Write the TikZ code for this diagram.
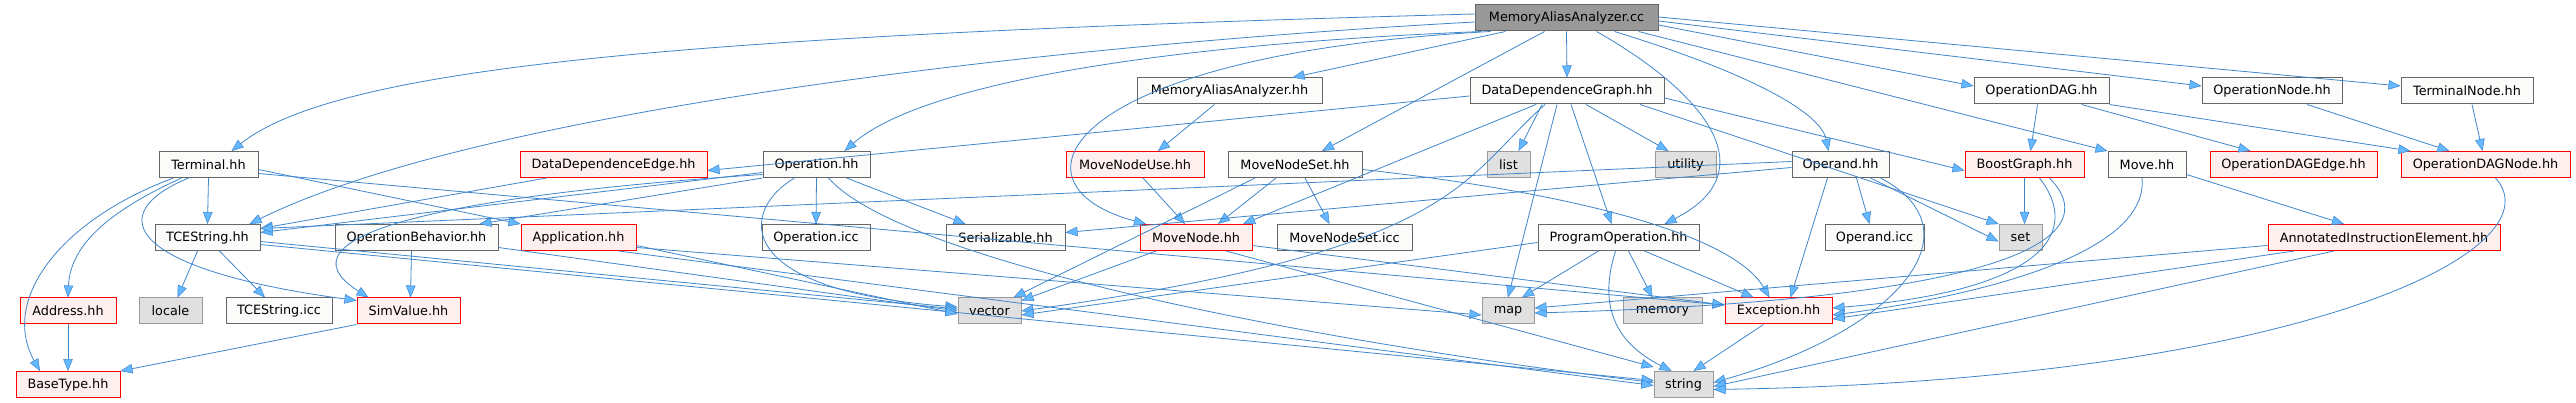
\documentclass[tikz,border=0pt]{standalone}
\usepackage{fontspec}
\setmainfont{DejaVu Sans}
\usetikzlibrary{arrows.meta}
\definecolor{edgec}{HTML}{3F86CC}
\definecolor{arrowc}{HTML}{63B8FF}
\definecolor{wborder}{HTML}{666666}
\definecolor{wfill}{HTML}{FBFCFA}
\definecolor{gborder}{HTML}{999999}
\definecolor{gfill}{HTML}{E0E0E0}
\definecolor{rborder}{HTML}{FF0000}
\definecolor{rfill}{HTML}{FFF0F0}
\definecolor{mfill}{HTML}{999999}
\tikzset{
  box/.style={draw, line width=1.0, minimum height=26, inner sep=0,
    font=\fontsize{12.8}{15}\selectfont},
  wn/.style={box, draw=wborder, fill=wfill},
  gn/.style={box, draw=gborder, fill=gfill},
  rn/.style={box, draw=rborder, fill=rfill},
  mn/.style={box, draw=wborder, fill=mfill},
  ln/.style={draw=edgec, line width=0.8,
    -{Triangle[length=12pt,width=9.5pt,color=edgec,fill=arrowc,line width=0.5pt]}},
}
\begin{document}
\begin{tikzpicture}[x=1pt,y=-1pt]
\useasboundingbox[fill=white] (0,0) rectangle (2576,403);
% row 0
\node[mn, minimum width=183] (main) at (1566.5,18) {MemoryAliasAnalyzer.cc};
% row 1
\node[wn, minimum width=185] (maah) at (1229.5,91) {MemoryAliasAnalyzer.hh};
\node[wn, minimum width=194] (ddg) at (1567,91) {DataDependenceGraph.hh};
\node[wn, minimum width=135] (opdag) at (2041.5,91) {OperationDAG.hh};
\node[wn, minimum width=140] (opnode) at (2272,91) {OperationNode.hh};
\node[wn, minimum width=132] (termnode) at (2467,91) {TerminalNode.hh};
% row 2
\node[wn, minimum width=99] (terminal) at (208.5,164.5) {Terminal.hh};
\node[rn, minimum width=187] (dde) at (613.5,164.5) {DataDependenceEdge.hh};
\node[wn, minimum width=107] (operation) at (816.5,164.5) {Operation.hh};
\node[rn, minimum width=138] (mnuse) at (1135,164.5) {MoveNodeUse.hh};
\node[wn, minimum width=134] (mnset) at (1295,164.5) {MoveNodeSet.hh};
\node[gn, minimum width=43] (list) at (1508.5,164.5) {list};
\node[gn, minimum width=61] (utility) at (1685.5,164.5) {utility};
\node[wn, minimum width=97] (operand) at (1840.5,164.5) {Operand.hh};
\node[rn, minimum width=119] (boost) at (2024.5,164.5) {BoostGraph.hh};
\node[wn, minimum width=78] (move) at (2147,164.5) {Move.hh};
\node[rn, minimum width=167] (opdagedge) at (2293.5,164.5) {OperationDAGEdge.hh};
\node[rn, minimum width=169] (opdagnode) at (2485.5,164.5) {OperationDAGNode.hh};
% row 3
\node[wn, minimum width=105] (tcestring) at (207.5,237.5) {TCEString.hh};
\node[wn, minimum width=163] (opbeh) at (416.5,237.5) {OperationBehavior.hh};
\node[rn, minimum width=115] (application) at (578.5,237.5) {Application.hh};
\node[wn, minimum width=108] (opicc) at (816,237.5) {Operation.icc};
\node[wn, minimum width=119] (serial) at (1005.5,237.5) {Serializable.hh};
\node[rn, minimum width=112] (movenode) at (1196,237.5) {MoveNode.hh};
\node[wn, minimum width=135] (mnseticc) at (1344.5,237.5) {MoveNodeSet.icc};
\node[wn, minimum width=161] (progop) at (1618.5,237.5) {ProgramOperation.hh};
\node[wn, minimum width=99] (operandicc) at (1874.5,237.5) {Operand.icc};
\node[gn, minimum width=43] (set) at (2020.5,237.5) {set};
\node[rn, minimum width=232] (aie) at (2384,237.5) {AnnotatedInstructionElement.hh};
% row 4
\node[rn, minimum width=96] (address) at (68,311) {Address.hh};
\node[gn, minimum width=63] (locale) at (170.5,311) {locale};
\node[wn, minimum width=106] (tceicc) at (279,311) {TCEString.icc};
\node[rn, minimum width=103] (simvalue) at (408.5,311) {SimValue.hh};
\node[gn, minimum width=63] (vector) at (989.5,311) {vector};
\node[gn, minimum width=52] (map) at (1508,311) {map};
\node[gn, minimum width=79] (memory) at (1662.5,311) {memory};
\node[rn, minimum width=107] (exception) at (1778.5,311) {Exception.hh};
% row 5
\node[rn, minimum width=104] (basetype) at (68,384.5) {BaseType.hh};
\node[gn, minimum width=59] (string) at (1683.5,384.5) {string};

% ---- edges from MemoryAliasAnalyzer.cc
\draw[ln] ([yshift=4]main.west) .. controls (700,35) and (340,65) .. ([xshift=23]terminal.north);
\draw[ln] ([yshift=-4]main.west) .. controls (1050,45) and (480,110) .. ([xshift=42]tcestring.north);
\draw[ln] ([xshift=-85]main.south) .. controls (1150,45) and (920,85) .. ([xshift=28]operation.north);
\draw[ln] ([xshift=-61]main.south) -- ([xshift=63]maah.north);
\draw[ln] ([xshift=-76]main.south) .. controls (1060,55) and (1000,185) .. ([xshift=-50]movenode.north);
\draw[ln] ([xshift=-22]main.south) -- ([xshift=27]mnset.north);
\draw[ln] (main.south) -- (ddg.north);
\draw[ln] ([xshift=30]main.south) .. controls (1700,90) and (1770,170) .. ([xshift=46]progop.north);
\draw[ln] ([xshift=48]main.south) .. controls (1740,70) and (1820,110) .. ([xshift=-12]operand.north);
\draw[ln] ([xshift=72]main.south) -- (move.north west);
\draw[ln] ([yshift=-7]main.east) -- ([yshift=5]opdag.west);
\draw[ln] ([yshift=-3]main.east) -- ([yshift=5]opnode.west);
\draw[ln] ([yshift=1]main.east) -- ([yshift=5]termnode.west);
% ---- MemoryAliasAnalyzer.hh
\draw[ln] ([xshift=-15]maah.south) -- ([xshift=23]mnuse.north);
% ---- DataDependenceGraph.hh
\draw[ln] ([yshift=-5]ddg.west) -- ([yshift=-6]dde.east);
\draw[ln] ([xshift=-25]ddg.south) -- ([xshift=10]list.north);
\draw[ln] ([xshift=19]ddg.south) -- ([xshift=-17]utility.north);
\draw[ln] ([xshift=-10]ddg.south) -- (map.north);
\draw[ln] ([xshift=4]ddg.south) -- ([xshift=-7]progop.north);
\draw[ln] ([xshift=-31]ddg.south) -- ([xshift=47]movenode.north);
\draw[ln] ([xshift=-22]ddg.south) .. controls (1460,180) and (1460,250) .. (vector.east);
\draw[ln] ([xshift=73]ddg.south) -- (set.north west);
\draw[ln] ([yshift=-7]ddg.east) -- ([yshift=-6]boost.west);
% ---- DataDependenceEdge.hh
\draw[ln] ([xshift=-67]dde.south) -- ([yshift=9]tcestring.east);
% ---- Operation.hh
\draw[ln] ([yshift=-8]operation.west) -- ([yshift=5]tcestring.east);
\draw[ln] (operation.south west) -- ([xshift=63]opbeh.north);
\draw[ln] (operation.south) -- (opicc.north);
\draw[ln] ([xshift=30]operation.south) -- ([xshift=-40]serial.north);
\draw[ln] ([xshift=-22]operation.south) .. controls (740,210) and (730,290) .. ([yshift=4]vector.west);
\draw[ln] ([xshift=12]operation.south) .. controls (900,260) and (1300,340) .. ([yshift=2]string.west);
\draw[ln] ([yshift=-10]operation.west) .. controls (450,195) and (270,235) .. ([xshift=-40]simvalue.north);
% ---- Terminal.hh
\draw[ln] (terminal.south) -- (tcestring.north);
\draw[ln] ([xshift=-35]terminal.south) .. controls (60,220) and (0,300) .. ([xshift=-28]basetype.north);
\draw[ln] ([xshift=-27]terminal.south) .. controls (100,215) and (70,250) .. (address.north);
\draw[ln] ([xshift=-20]terminal.south) .. controls (100,215) and (130,270) .. ([yshift=-3]simvalue.north west);
\draw[ln] ([yshift=-5]terminal.east) -- (application.north west);
\draw[ln] ([yshift=-9]terminal.east) -- ([yshift=6]exception.west);
% ---- TCEString.hh
\draw[ln] ([xshift=-10]tcestring.south) -- ([xshift=7]locale.north);
\draw[ln] ([xshift=12]tcestring.south) -- ([xshift=-14]tceicc.north);
\draw[ln] ([yshift=-7]tcestring.east) -- ([yshift=4]string.west);
\draw[ln] ([yshift=-4]tcestring.east) -- ([yshift=2]vector.west);
% ---- OperationBehavior.hh
\draw[ln] ([xshift=-5]opbeh.south) -- ([xshift=2]simvalue.north);
\draw[ln] ([yshift=-10]opbeh.east) -- ([yshift=0]vector.west);
% ---- Application.hh
\draw[ln] ([yshift=-8]application.east) -- ([yshift=-3]vector.west);
\draw[ln] ([yshift=-10]application.east) -- ([yshift=-4]map.west);
\draw[ln] ([xshift=40]application.south) -- ([yshift=-1]string.west);
% ---- SimValue, Address
\draw[ln] (simvalue.south west) -- (basetype.north east);
\draw[ln] (address.south) -- (basetype.north);
% ---- MoveNodeUse, MoveNodeSet
\draw[ln] ([xshift=8]mnuse.south) -- ([xshift=-11]movenode.north);
\draw[ln] ([xshift=-19]mnset.south) -- ([xshift=22]movenode.north);
\draw[ln] ([xshift=10]mnset.south) -- ([xshift=-15]mnseticc.north);
\draw[ln] ([xshift=-40]mnset.south) -- ([xshift=-8]vector.north east);
\draw[ln] ([yshift=-5]mnset.east) .. controls (1550,190) and (1730,230) .. ([xshift=-9]exception.north);
% ---- MoveNode
\draw[ln] ([xshift=-40]movenode.south) -- ([yshift=-3]vector.north east);
\draw[ln] ([xshift=30]movenode.south) -- ([yshift=4]string.north west);
\draw[ln] ([yshift=-8]movenode.east) -- ([yshift=6]exception.west);
% ---- ProgramOperation
\draw[ln] ([yshift=-5]progop.west) -- ([yshift=-4]vector.east);
\draw[ln] ([xshift=-20]progop.south) -- ([xshift=14]map.north);
\draw[ln] ([xshift=-3]progop.south) .. controls (1600,300) and (1610,340) .. ([xshift=-12]string.north);
\draw[ln] ([xshift=10]progop.south) -- ([xshift=-10]memory.north);
\draw[ln] ([xshift=26]progop.south) -- ([xshift=-25]exception.north);
% ---- Operand
\draw[ln] ([yshift=3]operand.west) -- ([yshift=9]tcestring.east);
\draw[ln] ([yshift=-3]operand.west) -- ([yshift=5]serial.east);
\draw[ln] ([xshift=-13]operand.south) -- ([xshift=12]exception.north);
\draw[ln] ([xshift=16]operand.south) -- ([xshift=-5]operandicc.north);
\draw[ln] ([xshift=30]operand.south) -- ([yshift=-4]set.west);
\draw[ln] ([xshift=40]operand.south) .. controls (1980,230) and (1900,330) .. ([yshift=2]string.east);
% ---- Exception
\draw[ln] ([xshift=-15]exception.south) -- ([xshift=10]string.north);
% ---- BoostGraph
\draw[ln] (boost.south) -- ([xshift=4]set.north);
\draw[ln] ([xshift=15]boost.south) .. controls (2080,230) and (2050,290) .. ([yshift=3]exception.east);
\draw[ln] ([xshift=25]boost.south) .. controls (2110,240) and (2000,300) .. ([yshift=-2]map.east);
% ---- Move
\draw[ln] ([yshift=-10]move.east) -- ([xshift=-40]aie.north);
\draw[ln] ([xshift=-5]move.south) .. controls (2150,260) and (1950,300) .. ([yshift=-4]exception.east);
% ---- AnnotatedInstructionElement
\draw[ln] ([yshift=-8]aie.west) -- ([yshift=3]map.east);
\draw[ln] ([xshift=-90]aie.south) -- ([yshift=-8]exception.east);
\draw[ln] ([xshift=-50]aie.south) -- ([yshift=-2]string.east);
% ---- OperationDAG and friends
\draw[ln] ([xshift=-4]opdag.south) -- ([xshift=6]boost.north);
\draw[ln] ([xshift=40]opdag.south) -- ([xshift=-43]opdagedge.north);
\draw[ln] (opdag.south east) -- ([xshift=-75]opdagnode.north);
\draw[ln] ([xshift=35]opnode.south) -- ([xshift=-36]opdagnode.north);
\draw[ln] ([xshift=5]termnode.south) -- ([xshift=-3]opdagnode.north);
\draw[ln] ([xshift=10]opdagnode.south) .. controls (2560,250) and (2300,380) .. ([yshift=-5]string.east);
\end{tikzpicture}
\end{document}
